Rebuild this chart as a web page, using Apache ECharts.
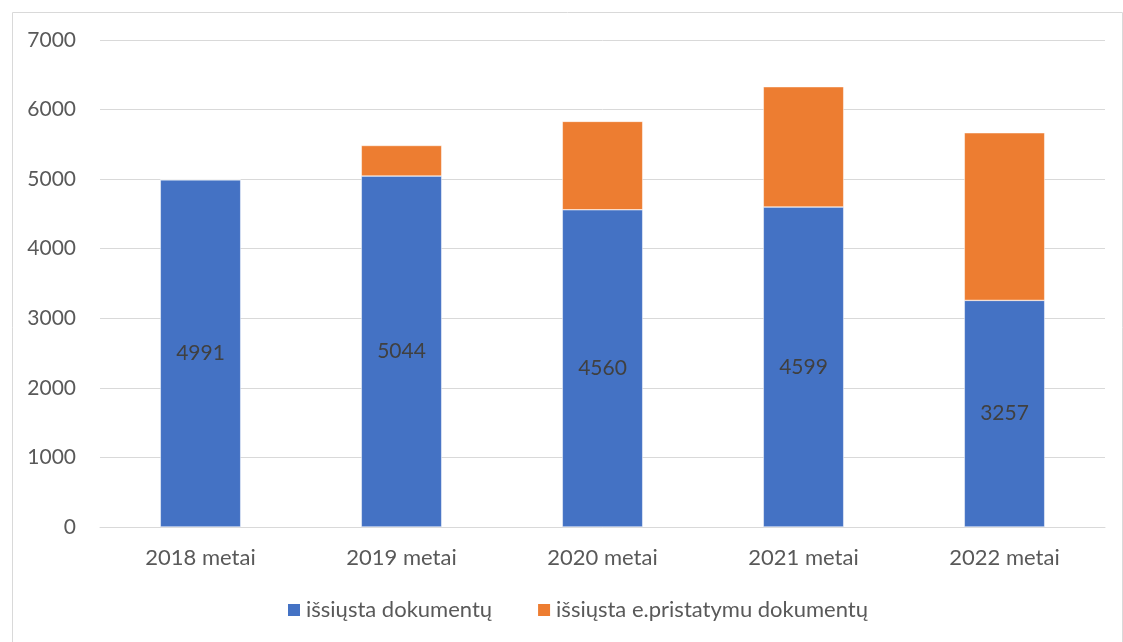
<!DOCTYPE html>
<html>
<head>
<meta charset="utf-8">
<script src="https://cdn.jsdelivr.net/npm/echarts@6/dist/echarts.min.js"></script>
<style>
html,body{margin:0;padding:0;background:#fff;}
#c{width:1123px;height:642px;}
</style>
</head>
<body>
<div id="c"></div>
<script>
const categories = ['2018 metai','2019 metai','2020 metai','2021 metai','2022 metai'];
const sentDocs = [4991, 5044, 4560, 4599, 3257];
const sentEDelivery = [0, 440, 1270, 1730, 2410];
const seriesNames = ['išsiųsta dokumentų', 'išsiųsta e.pristatymu dokumentų'];
const yTicks = {min: 0, max: 7000, interval: 1000};

const font = 'Lato, "Noto Sans", sans-serif';
const fs = 22;
const chart = echarts.init(document.getElementById('c'));
chart.setOption({
  animation: false,
  textStyle: {fontFamily: font},
  graphic: [{
    type: 'rect', left: 10, top: 10, silent: true,
    shape: {width: 1110, height: 640},
    style: {fill: 'none', stroke: '#d9d9d9', lineWidth: 1}
  }],
  grid: {left: 100, right: 18, top: 40, bottom: 115},
  legend: {
    bottom: 16, left: 281,
    itemWidth: 14, itemHeight: 14, itemGap: 44,
    icon: 'rect',
    textStyle: {fontSize: fs, color: '#595959', fontFamily: font},
    data: seriesNames
  },
  xAxis: {
    type: 'category', data: categories,
    axisLine: {lineStyle: {color: '#d9d9d9'}},
    axisTick: {show: false},
    axisLabel: {fontSize: fs, color: '#595959', margin: 20, fontFamily: font}
  },
  yAxis: {
    type: 'value', min: yTicks.min, max: yTicks.max, interval: yTicks.interval,
    axisLine: {show: false}, axisTick: {show: false},
    splitLine: {lineStyle: {color: '#d9d9d9', width: 1}},
    axisLabel: {fontSize: 21, color: '#595959', margin: 24, fontFamily: font,
      formatter: v => String(v)}
  },
  series: [{
    name: seriesNames[0], type: 'bar', stack: 'a', data: sentDocs,
    barWidth: '40%',
    itemStyle: {color: '#4472c4', borderColor: '#ffffff', borderWidth: 0.5},
    label: {show: true, position: 'inside', fontSize: 21, color: '#404040', fontFamily: font}
  }, {
    name: seriesNames[1], type: 'bar', stack: 'a', data: sentEDelivery,
    barWidth: '40%',
    itemStyle: {color: '#ed7d31', borderColor: '#ffffff', borderWidth: 0.5}
  }]
});
</script>
</body>
</html>
